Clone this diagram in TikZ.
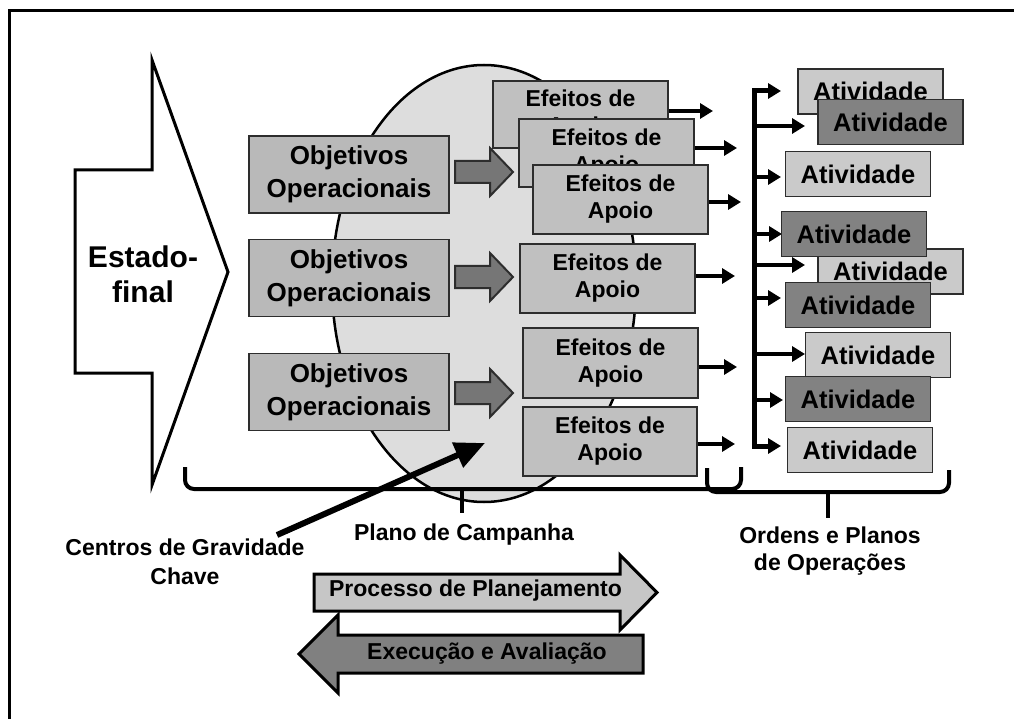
\documentclass[tikz,border=0pt]{standalone}
\usepackage{fontspec}
\setmainfont{Liberation Sans}
\usetikzlibrary{arrows.meta}
\definecolor{edge}{RGB}{45,45,45}
\definecolor{ellfill}{RGB}{221,221,221}
\definecolor{objfill}{RGB}{185,185,185}
\definecolor{effill}{RGB}{192,192,192}
\definecolor{litefill}{RGB}{202,202,202}
\definecolor{darkfill}{RGB}{130,130,130}
\definecolor{blockfill}{RGB}{118,118,118}
\definecolor{planfill}{RGB}{198,198,198}
\definecolor{execfill}{RGB}{128,128,128}
\begin{document}
\begin{tikzpicture}[x=1pt,y=-1pt,
  box/.style={draw=edge, line width=1.6pt, inner sep=0pt, align=center},
  objbox/.style={box, fill=objfill, minimum width=200pt, minimum height=77pt,
    font=\bfseries\fontsize{26}{33}\selectfont},
  efbox/.style={box, fill=effill, minimum width=175pt, minimum height=69pt,
    font=\bfseries\fontsize{23}{27}\selectfont},
  actlite/.style={box, fill=litefill, minimum width=145pt, minimum height=45pt,
    font=\bfseries\fontsize{25.5}{30}\selectfont},
  actdark/.style={actlite, fill=darkfill},
  label/.style={align=center, inner sep=0pt, font=\bfseries\fontsize{23}{28}\selectfont},
  flow/.style={line width=4pt, -{Triangle[length=13pt,width=15pt]}},
  bus/.style={line width=5pt, {Triangle[length=13pt,width=15pt]}-{Triangle[length=13pt,width=15pt]}},
  brace/.style={line width=4pt, rounded corners=9pt},
  blockarrow/.style={draw=edge, line width=2pt, fill=blockfill, line join=miter},
  bigarrow/.style={draw=black, line width=3pt, line join=miter}
]
\useasboundingbox (0,0) rectangle (1014,719);

% frame (top and left edges)
\draw[line width=3pt] (9,719) -- (9,11) -- (1014,11);

% end state arrow
\draw[line width=3pt, fill=white, line join=miter]
  (75,170) -- (152,170) -- (152,60) -- (228,272) -- (152,485) -- (152,373) -- (75,373) -- cycle;
\node[align=center, inner sep=0pt, font=\bfseries\fontsize{30}{35}\selectfont] (est) at (143,274.5) {Estado-\\final};

% campaign plan area
\draw[draw=black, line width=2.5pt, fill=ellfill] (484,283.5) ellipse [x radius=152, y radius=218.5];

% operational objectives
\node[objbox] (o1) at (349,174.5) {Objetivos\\Operacionais};
\node[objbox] (o2) at (349,278)   {Objetivos\\Operacionais};
\node[objbox] (o3) at (349,392)   {Objetivos\\Operacionais};

% block arrows objectives -> effects
\foreach \c in {172,277,393}{
  \draw[blockarrow] (455,\c-11) -- (490,\c-11) -- (490,\c-24) -- (513,\c)
    -- (490,\c+24) -- (490,\c+11) -- (455,\c+11) -- cycle;
}

% supporting effects
\node[efbox, minimum height=67pt] (e1) at (580.5,114.5) {Efeitos de\\Apoio};
\node[efbox, minimum height=68pt] (e2) at (606.5,153)   {Efeitos de\\Apoio};
\node[efbox] (e3) at (620.5,199.5) {Efeitos de\\Apoio};
\node[efbox] (e4) at (607.5,278.5) {Efeitos de\\Apoio};
\node[efbox, minimum height=70pt] (e5) at (610.5,363) {Efeitos de\\Apoio};
\node[efbox, minimum width=174pt] (e6) at (610,441.5) {Efeitos de\\Apoio};

\draw[flow] (e1.east |- 0,111) -- (713,111);
\draw[flow] (e2.east |- 0,148) -- (737,148);
\draw[flow] (e3.east |- 0,202) -- (741,202);
\draw[flow] (e4.east |- 0,276) -- (735,276);
\draw[flow] (e5.east |- 0,367) -- (737,367);
\draw[flow] (e6.east |- 0,444) -- (735,444);

% distribution bus to activities
\draw[bus] (781,91) -- (754,91) -- (754,446) -- (781,446);
\draw[flow] (754,126) -- (805,126);
\draw[flow] (754,177) -- (781,177);
\draw[flow] (754,234) -- (782,234);
\draw[flow] (754,265) -- (805,265);
\draw[flow] (754,298) -- (781,298);
\draw[flow] (754,354) -- (805,354);
\draw[flow] (754,400) -- (783,400);

% activities
\node[actlite] (a1) at (870.5,91.5) {Atividade};
\node[actdark] (a2) at (890.5,122)  {Atividade};
\node[actlite] (a3) at (858,174)    {Atividade};
\node[actlite] (a5) at (890.5,271.5){Atividade};
\node[actdark] (a4) at (854,234)    {Atividade};
\node[actdark] (a6) at (858,305)    {Atividade};
\node[actlite] (a7) at (878,355)    {Atividade};
\node[actdark] (a8) at (858,399)    {Atividade};
\node[actlite] (a9) at (860,450)    {Atividade};

% braces
\draw[brace] (185,467) -- (185,489) -- (741,489) -- (741,467);
\draw[line width=4pt] (462,489) -- (462,513);
\draw[brace] (707,468) -- (707,492) -- (949,492) -- (949,470);
\draw[line width=4pt] (828,492) -- (828,518);

\node[label] (plano) at (464,535) {Plano de Campanha};
\node[label, font=\bfseries\fontsize{23}{27}\selectfont] (ordens) at (830,551.5) {Ordens e Planos\\de Opera\c{c}\~oes};
\node[label, font=\bfseries\fontsize{23}{29}\selectfont] (cg) at (185,562) {Centros de Gravidade\\Chave};

% key centres of gravity pointer
\coordinate (cgtail) at (277,535);
\coordinate (cgtip) at (485,443);
\draw[line width=6pt, -{Triangle[length=30pt,width=26pt]}] (cgtail) -- (cgtip);

% planning / execution arrows
\draw[bigarrow, fill=planfill]
  (314,574) -- (620,574) -- (620,555) -- (657,592.5) -- (620,630) -- (620,611) -- (314,611) -- cycle;
\node[label] (plan) at (475.5,591) {Processo de Planejamento};
\draw[bigarrow, fill=execfill]
  (643,635) -- (338,635) -- (338,615) -- (299,654) -- (338,693) -- (338,673) -- (643,673) -- cycle;
\node[label] (exec) at (487,654) {Execu\c{c}\~ao e Avalia\c{c}\~ao};
\end{tikzpicture}
\end{document}
